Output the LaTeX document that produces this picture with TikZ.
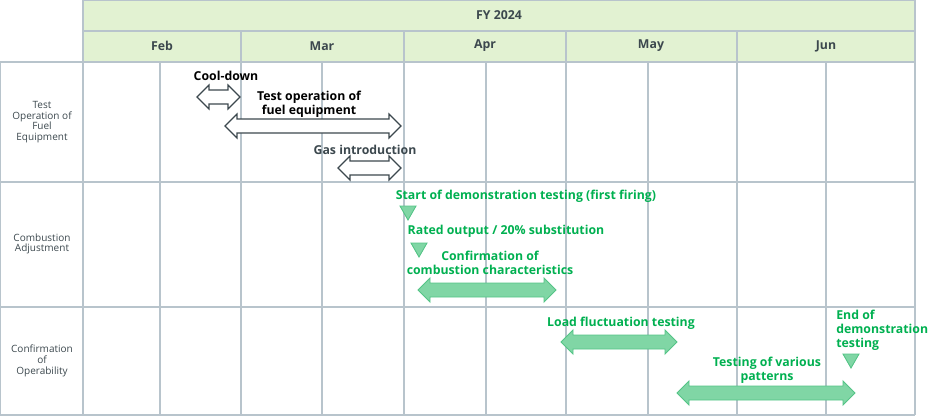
\documentclass[tikz,border=0pt]{standalone}
\usepackage{fontspec}
\setmainfont{Open Sans}
\usetikzlibrary{positioning}
\definecolor{cHead}{RGB}{226,242,210}
\definecolor{cGrid}{RGB}{184,196,204}
\definecolor{cInk}{RGB}{60,72,78}
\definecolor{cGreen}{RGB}{0,176,80}
\definecolor{cBar}{RGB}{128,214,165}
\definecolor{cBarEdge}{RGB}{84,196,134}
\tikzset{
	gridline/.style={draw=cGrid, line width=0.6pt},
	hdtext/.style={font=\bfseries\fontsize{7}{8}\selectfont, text=cInk},
	rowtext/.style={font=\fontsize{5.7}{6.1}\selectfont, text=cInk, align=center},
	blklabel/.style={font=\bfseries\fontsize{7}{7.9}\selectfont, align=center, inner sep=0pt},
	grnlabel/.style={blklabel, text=cGreen},
	blkbar/.style={draw=cInk, fill=white, line width=0.7pt},
	grnbar/.style={draw=cBarEdge, fill=cBar, line width=0.5pt},
	marker/.style={draw=cBarEdge, fill=cBar, line width=0.5pt},
}
% double-headed bar: [style]{x1}{x2}{y}
\newcommand{\dblbar}[4][]{%
	\draw[#1] (#2,#4) -- (#2+12,#4-12) -- (#2+12,#4-7) -- (#3-12,#4-7) -- (#3-12,#4-12)
		-- (#3,#4) -- (#3-12,#4+12) -- (#3-12,#4+7) -- (#2+12,#4+7) -- (#2+12,#4+12) -- cycle;}
% milestone triangle: {x}{ytop}
\newcommand{\milestone}[2]{%
	\draw[marker] (#1-8,#2) -- (#1+8,#2) -- (#1,#2+14) -- cycle;}

\begin{document}
\begin{tikzpicture}[x=0.02cm, y=-0.02cm]
	\useasboundingbox (0,0) rectangle (941,417);
	% header
	\fill[cHead] (83,0) rectangle (915,62);
	\node[hdtext] (fy) at (499,15) {FY 2024};
	\node[hdtext] (feb) at (162,46) {Feb};
	\node[hdtext] (mar) at (322,46) {Mar};
	\node[hdtext] (apr) at (485,46) {Apr};
	\node[hdtext] (may) at (651,46) {May};
	\node[hdtext] (jun) at (826,46) {Jun};
	% grid
	\draw[gridline] (83,0.5) -- (915,0.5);
	\draw[gridline] (83,31) -- (915,31);
	\foreach \y in {62,182,307,415}
		\draw[gridline] (0,\y) -- (915,\y);
	\draw[gridline] (0.5,62) -- (0.5,415);
	\foreach \x in {83,915}
		\draw[gridline] (\x,0) -- (\x,415);
	\foreach \x in {241,404,566,737}
		\draw[gridline] (\x,31) -- (\x,415);
	\foreach \x in {160,322,486,648,826}
		\draw[gridline] (\x,62) -- (\x,415);
	% row titles
	\node[rowtext] (r1) at (42,122) {Test\\Operation of\\Fuel\\Equipment};
	\node[rowtext] (r2) at (42,244) {Combustion\\Adjustment};
	\node[rowtext] (r3) at (42,361) {Confirmation\\of\\Operability};
	% test operation of fuel equipment
	\node[blklabel] (cool) at (226,76) {Cool-down};
	\dblbar[blkbar]{197}{240}{97}
	\node[blklabel] (testop) at (309,104) {Test operation of\\fuel equipment};
	\dblbar[blkbar]{225}{401}{126}
	\node[blklabel, text=cInk] (gas) at (365,150) {Gas introduction};
	\dblbar[blkbar]{338}{401}{168}
	% combustion adjustment
	\node[grnlabel] (first) at (526,196) {Start of demonstration testing (first firing)};
	\milestone{408}{206}
	\node[grnlabel] (rated) at (506,231) {Rated output / 20\% substitution};
	\milestone{419}{243}
	\node[grnlabel] (conf) at (490,263) {Confirmation of\\combustion characteristics};
	\dblbar[grnbar]{418}{556}{290}
	% confirmation of operability
	\node[grnlabel] (load) at (621,323) {Load fluctuation testing};
	\dblbar[grnbar]{561}{677}{342}
	\node[grnlabel, align=left, anchor=west] (endtest) at (836,330) {End of\\demonstration\\testing};
	\milestone{851}{354}
	\node[grnlabel] (various) at (767,370) {Testing of various\\patterns};
	\dblbar[grnbar]{677}{855}{393}
\end{tikzpicture}
\end{document}
